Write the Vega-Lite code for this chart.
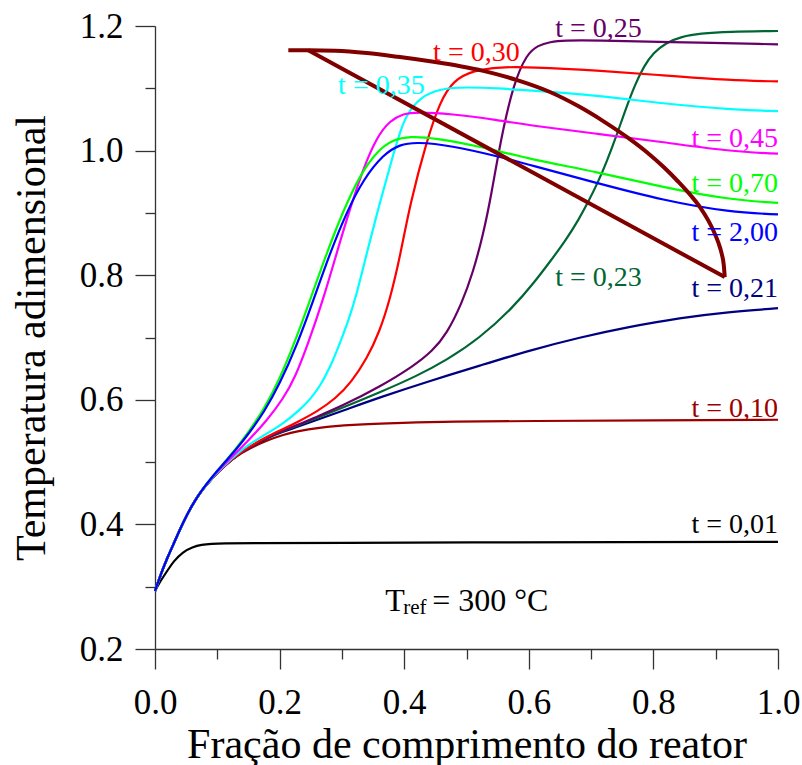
{
  "$schema": "https://vega.github.io/schema/vega-lite/v6.json",
  "width": 623,
  "height": 623,
  "autosize": "none",
  "padding": {"left": 155, "top": 26, "right": 24, "bottom": 116},
  "background": "white",
  "config": {
    "view": {"stroke": null},
    "font": "Liberation Serif",
    "axis": {
      "grid": false,
      "domainColor": "#333333",
      "domainWidth": 1.3,
      "tickColor": "#333333",
      "tickWidth": 1.3,
      "labelFont": "Liberation Serif",
      "labelFontSize": 35,
      "labelColor": "#000000",
      "titleFont": "Liberation Serif",
      "titleFontSize": 42,
      "titleFontWeight": "normal",
      "titleColor": "#000000"
    }
  },
  "resolve": {"axis": {"x": "independent", "y": "independent"}},
  "datasets": {
    "curves": [
      {"s": "t = 0,01", "x": 0, "y": 0.293},
      {"s": "t = 0,01", "x": 0.007, "y": 0.306},
      {"s": "t = 0,01", "x": 0.0134, "y": 0.316},
      {"s": "t = 0,01", "x": 0.02, "y": 0.326},
      {"s": "t = 0,01", "x": 0.03, "y": 0.341},
      {"s": "t = 0,01", "x": 0.045, "y": 0.356},
      {"s": "t = 0,01", "x": 0.06, "y": 0.3635},
      {"s": "t = 0,01", "x": 0.075, "y": 0.3675},
      {"s": "t = 0,01", "x": 0.09, "y": 0.369},
      {"s": "t = 0,01", "x": 0.11, "y": 0.3698},
      {"s": "t = 0,01", "x": 0.15, "y": 0.370},
      {"s": "t = 0,01", "x": 0.3, "y": 0.3705},
      {"s": "t = 0,01", "x": 0.5, "y": 0.371},
      {"s": "t = 0,01", "x": 0.75, "y": 0.3715},
      {"s": "t = 0,01", "x": 1.0, "y": 0.372},

      {"s": "t = 0,10", "x": 0, "y": 0.293},
      {"s": "t = 0,10", "x": 0.01, "y": 0.322},
      {"s": "t = 0,10", "x": 0.02, "y": 0.347},
      {"s": "t = 0,10", "x": 0.03, "y": 0.369},
      {"s": "t = 0,10", "x": 0.045, "y": 0.403},
      {"s": "t = 0,10", "x": 0.06, "y": 0.432},
      {"s": "t = 0,10", "x": 0.075, "y": 0.455},
      {"s": "t = 0,10", "x": 0.09, "y": 0.472},
      {"s": "t = 0,10", "x": 0.1, "y": 0.483},
      {"s": "t = 0,10", "x": 0.115, "y": 0.497},
      {"s": "t = 0,10", "x": 0.13, "y": 0.509},
      {"s": "t = 0,10", "x": 0.15, "y": 0.521},
      {"s": "t = 0,10", "x": 0.18, "y": 0.535},
      {"s": "t = 0,10", "x": 0.206, "y": 0.544},
      {"s": "t = 0,10", "x": 0.23, "y": 0.550},
      {"s": "t = 0,10", "x": 0.26, "y": 0.555},
      {"s": "t = 0,10", "x": 0.313, "y": 0.560},
      {"s": "t = 0,10", "x": 0.4, "y": 0.563},
      {"s": "t = 0,10", "x": 0.474, "y": 0.565},
      {"s": "t = 0,10", "x": 0.6, "y": 0.566},
      {"s": "t = 0,10", "x": 0.8, "y": 0.567},
      {"s": "t = 0,10", "x": 1.0, "y": 0.568},

      {"s": "t = 0,21", "x": 0, "y": 0.293},
      {"s": "t = 0,21", "x": 0.01, "y": 0.322},
      {"s": "t = 0,21", "x": 0.02, "y": 0.347},
      {"s": "t = 0,21", "x": 0.03, "y": 0.369},
      {"s": "t = 0,21", "x": 0.045, "y": 0.403},
      {"s": "t = 0,21", "x": 0.06, "y": 0.432},
      {"s": "t = 0,21", "x": 0.075, "y": 0.455},
      {"s": "t = 0,21", "x": 0.09, "y": 0.472},
      {"s": "t = 0,21", "x": 0.1, "y": 0.483},
      {"s": "t = 0,21", "x": 0.115, "y": 0.497},
      {"s": "t = 0,21", "x": 0.13, "y": 0.510},
      {"s": "t = 0,21", "x": 0.15, "y": 0.523},
      {"s": "t = 0,21", "x": 0.18, "y": 0.539},
      {"s": "t = 0,21", "x": 0.206, "y": 0.549},
      {"s": "t = 0,21", "x": 0.23, "y": 0.557},
      {"s": "t = 0,21", "x": 0.26, "y": 0.568},
      {"s": "t = 0,21", "x": 0.3, "y": 0.582},
      {"s": "t = 0,21", "x": 0.361, "y": 0.604},
      {"s": "t = 0,21", "x": 0.44, "y": 0.630},
      {"s": "t = 0,21", "x": 0.522, "y": 0.655},
      {"s": "t = 0,21", "x": 0.6, "y": 0.679},
      {"s": "t = 0,21", "x": 0.6825, "y": 0.7005},
      {"s": "t = 0,21", "x": 0.76, "y": 0.717},
      {"s": "t = 0,21", "x": 0.843, "y": 0.7316},
      {"s": "t = 0,21", "x": 0.92, "y": 0.741},
      {"s": "t = 0,21", "x": 1.0, "y": 0.747},

      {"s": "t = 0,23", "x": 0, "y": 0.293},
      {"s": "t = 0,23", "x": 0.01, "y": 0.322},
      {"s": "t = 0,23", "x": 0.02, "y": 0.347},
      {"s": "t = 0,23", "x": 0.03, "y": 0.369},
      {"s": "t = 0,23", "x": 0.045, "y": 0.403},
      {"s": "t = 0,23", "x": 0.06, "y": 0.432},
      {"s": "t = 0,23", "x": 0.075, "y": 0.455},
      {"s": "t = 0,23", "x": 0.09, "y": 0.472},
      {"s": "t = 0,23", "x": 0.1, "y": 0.483},
      {"s": "t = 0,23", "x": 0.115, "y": 0.497},
      {"s": "t = 0,23", "x": 0.13, "y": 0.510},
      {"s": "t = 0,23", "x": 0.15, "y": 0.523},
      {"s": "t = 0,23", "x": 0.18, "y": 0.540},
      {"s": "t = 0,23", "x": 0.206, "y": 0.550},
      {"s": "t = 0,23", "x": 0.23, "y": 0.559},
      {"s": "t = 0,23", "x": 0.26, "y": 0.571},
      {"s": "t = 0,23", "x": 0.3, "y": 0.587},
      {"s": "t = 0,23", "x": 0.361, "y": 0.612},
      {"s": "t = 0,23", "x": 0.42, "y": 0.638},
      {"s": "t = 0,23", "x": 0.4684, "y": 0.664},
      {"s": "t = 0,23", "x": 0.52, "y": 0.698},
      {"s": "t = 0,23", "x": 0.5754, "y": 0.7487},
      {"s": "t = 0,23", "x": 0.61, "y": 0.790},
      {"s": "t = 0,23", "x": 0.635, "y": 0.823},
      {"s": "t = 0,23", "x": 0.66, "y": 0.857},
      {"s": "t = 0,23", "x": 0.68, "y": 0.889},
      {"s": "t = 0,23", "x": 0.695, "y": 0.917},
      {"s": "t = 0,23", "x": 0.71, "y": 0.947},
      {"s": "t = 0,23", "x": 0.725, "y": 0.982},
      {"s": "t = 0,23", "x": 0.74, "y": 1.022},
      {"s": "t = 0,23", "x": 0.755, "y": 1.065},
      {"s": "t = 0,23", "x": 0.77, "y": 1.105},
      {"s": "t = 0,23", "x": 0.785, "y": 1.136},
      {"s": "t = 0,23", "x": 0.80, "y": 1.157},
      {"s": "t = 0,23", "x": 0.82, "y": 1.173},
      {"s": "t = 0,23", "x": 0.845, "y": 1.183},
      {"s": "t = 0,23", "x": 0.875, "y": 1.188},
      {"s": "t = 0,23", "x": 0.92, "y": 1.191},
      {"s": "t = 0,23", "x": 1.0, "y": 1.192},

      {"s": "t = 0,25", "x": 0, "y": 0.293},
      {"s": "t = 0,25", "x": 0.01, "y": 0.322},
      {"s": "t = 0,25", "x": 0.02, "y": 0.347},
      {"s": "t = 0,25", "x": 0.03, "y": 0.369},
      {"s": "t = 0,25", "x": 0.045, "y": 0.403},
      {"s": "t = 0,25", "x": 0.06, "y": 0.432},
      {"s": "t = 0,25", "x": 0.075, "y": 0.455},
      {"s": "t = 0,25", "x": 0.09, "y": 0.472},
      {"s": "t = 0,25", "x": 0.1, "y": 0.483},
      {"s": "t = 0,25", "x": 0.115, "y": 0.497},
      {"s": "t = 0,25", "x": 0.13, "y": 0.510},
      {"s": "t = 0,25", "x": 0.15, "y": 0.523},
      {"s": "t = 0,25", "x": 0.18, "y": 0.540},
      {"s": "t = 0,25", "x": 0.206, "y": 0.551},
      {"s": "t = 0,25", "x": 0.23, "y": 0.560},
      {"s": "t = 0,25", "x": 0.26, "y": 0.573},
      {"s": "t = 0,25", "x": 0.3, "y": 0.590},
      {"s": "t = 0,25", "x": 0.3613, "y": 0.621},
      {"s": "t = 0,25", "x": 0.4148, "y": 0.654},
      {"s": "t = 0,25", "x": 0.445, "y": 0.678},
      {"s": "t = 0,25", "x": 0.4684, "y": 0.706},
      {"s": "t = 0,25", "x": 0.4925, "y": 0.755},
      {"s": "t = 0,25", "x": 0.51, "y": 0.803},
      {"s": "t = 0,25", "x": 0.527, "y": 0.866},
      {"s": "t = 0,25", "x": 0.54, "y": 0.930},
      {"s": "t = 0,25", "x": 0.555, "y": 1.018},
      {"s": "t = 0,25", "x": 0.5754, "y": 1.1075},
      {"s": "t = 0,25", "x": 0.597, "y": 1.1556},
      {"s": "t = 0,25", "x": 0.615, "y": 1.169},
      {"s": "t = 0,25", "x": 0.634, "y": 1.1744},
      {"s": "t = 0,25", "x": 0.6557, "y": 1.177},
      {"s": "t = 0,25", "x": 0.709, "y": 1.177},
      {"s": "t = 0,25", "x": 0.816, "y": 1.1744},
      {"s": "t = 0,25", "x": 1.0, "y": 1.1706},

      {"s": "t = 0,30", "x": 0, "y": 0.293},
      {"s": "t = 0,30", "x": 0.01, "y": 0.322},
      {"s": "t = 0,30", "x": 0.02, "y": 0.347},
      {"s": "t = 0,30", "x": 0.03, "y": 0.369},
      {"s": "t = 0,30", "x": 0.045, "y": 0.403},
      {"s": "t = 0,30", "x": 0.06, "y": 0.432},
      {"s": "t = 0,30", "x": 0.075, "y": 0.455},
      {"s": "t = 0,30", "x": 0.09, "y": 0.472},
      {"s": "t = 0,30", "x": 0.1, "y": 0.483},
      {"s": "t = 0,30", "x": 0.115, "y": 0.497},
      {"s": "t = 0,30", "x": 0.13, "y": 0.510},
      {"s": "t = 0,30", "x": 0.15, "y": 0.524},
      {"s": "t = 0,30", "x": 0.18, "y": 0.541},
      {"s": "t = 0,30", "x": 0.206, "y": 0.553},
      {"s": "t = 0,30", "x": 0.23, "y": 0.565},
      {"s": "t = 0,30", "x": 0.26, "y": 0.581},
      {"s": "t = 0,30", "x": 0.29, "y": 0.602},
      {"s": "t = 0,30", "x": 0.315, "y": 0.628},
      {"s": "t = 0,30", "x": 0.34, "y": 0.666},
      {"s": "t = 0,30", "x": 0.36, "y": 0.708},
      {"s": "t = 0,30", "x": 0.3774, "y": 0.762},
      {"s": "t = 0,30", "x": 0.3934, "y": 0.830},
      {"s": "t = 0,30", "x": 0.4095, "y": 0.915},
      {"s": "t = 0,30", "x": 0.4363, "y": 1.0164},
      {"s": "t = 0,30", "x": 0.4577, "y": 1.079},
      {"s": "t = 0,30", "x": 0.479, "y": 1.1128},
      {"s": "t = 0,30", "x": 0.5112, "y": 1.1289},
      {"s": "t = 0,30", "x": 0.554, "y": 1.1342},
      {"s": "t = 0,30", "x": 0.602, "y": 1.1342},
      {"s": "t = 0,30", "x": 0.709, "y": 1.1289},
      {"s": "t = 0,30", "x": 0.816, "y": 1.1208},
      {"s": "t = 0,30", "x": 0.923, "y": 1.1128},
      {"s": "t = 0,30", "x": 1.0, "y": 1.111},

      {"s": "t = 0,35", "x": 0, "y": 0.293},
      {"s": "t = 0,35", "x": 0.01, "y": 0.322},
      {"s": "t = 0,35", "x": 0.02, "y": 0.347},
      {"s": "t = 0,35", "x": 0.03, "y": 0.369},
      {"s": "t = 0,35", "x": 0.045, "y": 0.403},
      {"s": "t = 0,35", "x": 0.06, "y": 0.432},
      {"s": "t = 0,35", "x": 0.075, "y": 0.455},
      {"s": "t = 0,35", "x": 0.09, "y": 0.472},
      {"s": "t = 0,35", "x": 0.1, "y": 0.483},
      {"s": "t = 0,35", "x": 0.115, "y": 0.498},
      {"s": "t = 0,35", "x": 0.13, "y": 0.512},
      {"s": "t = 0,35", "x": 0.15, "y": 0.528},
      {"s": "t = 0,35", "x": 0.18, "y": 0.546},
      {"s": "t = 0,35", "x": 0.206, "y": 0.562},
      {"s": "t = 0,35", "x": 0.233, "y": 0.584},
      {"s": "t = 0,35", "x": 0.25, "y": 0.602},
      {"s": "t = 0,35", "x": 0.265, "y": 0.622},
      {"s": "t = 0,35", "x": 0.28, "y": 0.650},
      {"s": "t = 0,35", "x": 0.295, "y": 0.686},
      {"s": "t = 0,35", "x": 0.31, "y": 0.726},
      {"s": "t = 0,35", "x": 0.323, "y": 0.766},
      {"s": "t = 0,35", "x": 0.34, "y": 0.836},
      {"s": "t = 0,35", "x": 0.3613, "y": 0.918},
      {"s": "t = 0,35", "x": 0.3827, "y": 0.995},
      {"s": "t = 0,35", "x": 0.395, "y": 1.035},
      {"s": "t = 0,35", "x": 0.4042, "y": 1.058},
      {"s": "t = 0,35", "x": 0.4256, "y": 1.086},
      {"s": "t = 0,35", "x": 0.4577, "y": 1.0995},
      {"s": "t = 0,35", "x": 0.5, "y": 1.102},
      {"s": "t = 0,35", "x": 0.55, "y": 1.100},
      {"s": "t = 0,35", "x": 0.602, "y": 1.0966},
      {"s": "t = 0,35", "x": 0.709, "y": 1.0887},
      {"s": "t = 0,35", "x": 0.816, "y": 1.0754},
      {"s": "t = 0,35", "x": 0.923, "y": 1.0657},
      {"s": "t = 0,35", "x": 1.0, "y": 1.0635},

      {"s": "t = 0,45", "x": 0, "y": 0.293},
      {"s": "t = 0,45", "x": 0.01, "y": 0.322},
      {"s": "t = 0,45", "x": 0.02, "y": 0.347},
      {"s": "t = 0,45", "x": 0.03, "y": 0.369},
      {"s": "t = 0,45", "x": 0.045, "y": 0.403},
      {"s": "t = 0,45", "x": 0.06, "y": 0.432},
      {"s": "t = 0,45", "x": 0.075, "y": 0.455},
      {"s": "t = 0,45", "x": 0.09, "y": 0.473},
      {"s": "t = 0,45", "x": 0.1, "y": 0.484},
      {"s": "t = 0,45", "x": 0.115, "y": 0.500},
      {"s": "t = 0,45", "x": 0.13, "y": 0.515},
      {"s": "t = 0,45", "x": 0.15, "y": 0.535},
      {"s": "t = 0,45", "x": 0.179, "y": 0.566},
      {"s": "t = 0,45", "x": 0.206, "y": 0.602},
      {"s": "t = 0,45", "x": 0.225, "y": 0.636},
      {"s": "t = 0,45", "x": 0.245, "y": 0.688},
      {"s": "t = 0,45", "x": 0.2703, "y": 0.762},
      {"s": "t = 0,45", "x": 0.2917, "y": 0.836},
      {"s": "t = 0,45", "x": 0.3131, "y": 0.907},
      {"s": "t = 0,45", "x": 0.3345, "y": 0.972},
      {"s": "t = 0,45", "x": 0.356, "y": 1.0217},
      {"s": "t = 0,45", "x": 0.3774, "y": 1.0485},
      {"s": "t = 0,45", "x": 0.3988, "y": 1.0593},
      {"s": "t = 0,45", "x": 0.42, "y": 1.062},
      {"s": "t = 0,45", "x": 0.4737, "y": 1.0593},
      {"s": "t = 0,45", "x": 0.554, "y": 1.0485},
      {"s": "t = 0,45", "x": 0.602, "y": 1.0404},
      {"s": "t = 0,45", "x": 0.709, "y": 1.027},
      {"s": "t = 0,45", "x": 0.816, "y": 1.0137},
      {"s": "t = 0,45", "x": 0.923, "y": 0.9986},
      {"s": "t = 0,45", "x": 1.0, "y": 0.995},

      {"s": "t = 0,70", "x": 0, "y": 0.293},
      {"s": "t = 0,70", "x": 0.01, "y": 0.322},
      {"s": "t = 0,70", "x": 0.02, "y": 0.347},
      {"s": "t = 0,70", "x": 0.03, "y": 0.369},
      {"s": "t = 0,70", "x": 0.045, "y": 0.403},
      {"s": "t = 0,70", "x": 0.06, "y": 0.432},
      {"s": "t = 0,70", "x": 0.075, "y": 0.455},
      {"s": "t = 0,70", "x": 0.09, "y": 0.474},
      {"s": "t = 0,70", "x": 0.1, "y": 0.486},
      {"s": "t = 0,70", "x": 0.115, "y": 0.504},
      {"s": "t = 0,70", "x": 0.13, "y": 0.522},
      {"s": "t = 0,70", "x": 0.15, "y": 0.548},
      {"s": "t = 0,70", "x": 0.175, "y": 0.585},
      {"s": "t = 0,70", "x": 0.2, "y": 0.633},
      {"s": "t = 0,70", "x": 0.225, "y": 0.694},
      {"s": "t = 0,70", "x": 0.25, "y": 0.763},
      {"s": "t = 0,70", "x": 0.2757, "y": 0.836},
      {"s": "t = 0,70", "x": 0.3024, "y": 0.904},
      {"s": "t = 0,70", "x": 0.3292, "y": 0.961},
      {"s": "t = 0,70", "x": 0.356, "y": 0.999},
      {"s": "t = 0,70", "x": 0.3827, "y": 1.018},
      {"s": "t = 0,70", "x": 0.4095, "y": 1.0228},
      {"s": "t = 0,70", "x": 0.447, "y": 1.0207},
      {"s": "t = 0,70", "x": 0.527, "y": 1.0057},
      {"s": "t = 0,70", "x": 0.602, "y": 0.986},
      {"s": "t = 0,70", "x": 0.709, "y": 0.966},
      {"s": "t = 0,70", "x": 0.816, "y": 0.941},
      {"s": "t = 0,70", "x": 0.923, "y": 0.921},
      {"s": "t = 0,70", "x": 1.0, "y": 0.916},

      {"s": "t = 2,00", "x": 0, "y": 0.293},
      {"s": "t = 2,00", "x": 0.01, "y": 0.322},
      {"s": "t = 2,00", "x": 0.02, "y": 0.347},
      {"s": "t = 2,00", "x": 0.03, "y": 0.369},
      {"s": "t = 2,00", "x": 0.045, "y": 0.403},
      {"s": "t = 2,00", "x": 0.06, "y": 0.432},
      {"s": "t = 2,00", "x": 0.075, "y": 0.455},
      {"s": "t = 2,00", "x": 0.09, "y": 0.474},
      {"s": "t = 2,00", "x": 0.1, "y": 0.486},
      {"s": "t = 2,00", "x": 0.115, "y": 0.503},
      {"s": "t = 2,00", "x": 0.13, "y": 0.520},
      {"s": "t = 2,00", "x": 0.15, "y": 0.545},
      {"s": "t = 2,00", "x": 0.175, "y": 0.580},
      {"s": "t = 2,00", "x": 0.2, "y": 0.625},
      {"s": "t = 2,00", "x": 0.228, "y": 0.688},
      {"s": "t = 2,00", "x": 0.254, "y": 0.759},
      {"s": "t = 2,00", "x": 0.281, "y": 0.836},
      {"s": "t = 2,00", "x": 0.308, "y": 0.902},
      {"s": "t = 2,00", "x": 0.3345, "y": 0.954},
      {"s": "t = 2,00", "x": 0.3666, "y": 0.994},
      {"s": "t = 2,00", "x": 0.393, "y": 1.010},
      {"s": "t = 2,00", "x": 0.42, "y": 1.0137},
      {"s": "t = 2,00", "x": 0.4737, "y": 1.0084},
      {"s": "t = 2,00", "x": 0.554, "y": 0.990},
      {"s": "t = 2,00", "x": 0.602, "y": 0.977},
      {"s": "t = 2,00", "x": 0.709, "y": 0.948},
      {"s": "t = 2,00", "x": 0.816, "y": 0.920},
      {"s": "t = 2,00", "x": 0.923, "y": 0.901},
      {"s": "t = 2,00", "x": 1.0, "y": 0.8976}
    ],
    "envelopeArc": [
      {"x": 0.214, "y": 1.161},
      {"x": 0.246, "y": 1.161},
      {"x": 0.29, "y": 1.1602},
      {"x": 0.34, "y": 1.1565},
      {"x": 0.39, "y": 1.1505},
      {"x": 0.447, "y": 1.1425},
      {"x": 0.49, "y": 1.1355},
      {"x": 0.527, "y": 1.128},
      {"x": 0.58, "y": 1.1135},
      {"x": 0.634, "y": 1.094},
      {"x": 0.68, "y": 1.071},
      {"x": 0.72, "y": 1.047},
      {"x": 0.76, "y": 1.020},
      {"x": 0.79, "y": 0.997},
      {"x": 0.816, "y": 0.974},
      {"x": 0.84, "y": 0.950},
      {"x": 0.86, "y": 0.928},
      {"x": 0.875, "y": 0.909},
      {"x": 0.888, "y": 0.888},
      {"x": 0.8966, "y": 0.871},
      {"x": 0.904, "y": 0.853},
      {"x": 0.9095, "y": 0.835},
      {"x": 0.913, "y": 0.816},
      {"x": 0.9145, "y": 0.797}
    ],
    "envelopeChord": [
      {"x": 0.246, "y": 1.161},
      {"x": 0.9145, "y": 0.797}
    ],
    "rightLabels": [
      {"s": "t = 0,01", "x": 1.0, "y": 0.3868},
      {"s": "t = 0,10", "x": 1.0, "y": 0.5731},
      {"s": "t = 0,21", "x": 1.0, "y": 0.7643},
      {"s": "t = 2,00", "x": 1.0, "y": 0.8542},
      {"s": "t = 0,70", "x": 1.0, "y": 0.9329},
      {"s": "t = 0,45", "x": 1.0, "y": 1.0052}
    ],
    "leftLabels": [
      {"s": "t = 0,23", "x": 0.6424, "y": 0.782},
      {"s": "t = 0,25", "x": 0.6424, "y": 1.1819},
      {"s": "t = 0,30", "x": 0.4464, "y": 1.1433},
      {"s": "t = 0,35", "x": 0.2939, "y": 1.0903}
    ],
    "note": [
      {"x": 0.3694, "y": 0.2615}
    ]
  },
  "layer": [
    {
      "data": {"name": "curves"},
      "mark": {"type": "line", "strokeWidth": 2.2, "interpolate": "basis", "clip": false},
      "encoding": {
        "x": {
          "field": "x", "type": "quantitative",
          "scale": {"domain": [0, 1], "nice": false, "zero": false},
          "axis": {
            "orient": "bottom",
            "title": "Fração de comprimento do reator",
            "titleFont": "Liberation Serif",
            "values": [0, 0.2, 0.4, 0.6, 0.8, 1.0],
            "format": ".1f",
            "tickSize": 20,
            "labelPadding": 16,
            "titlePadding": 4,
            "labelFlush": false,
            "labelOverlap": false
          }
        },
        "y": {
          "field": "y", "type": "quantitative",
          "scale": {"domain": [0.2, 1.2], "nice": false, "zero": false},
          "axis": {
            "orient": "left",
            "title": "Temperatura adimensional",
            "titleFont": "Liberation Serif",
            "values": [0.2, 0.4, 0.6, 0.8, 1.0, 1.2],
            "format": ".1f",
            "tickSize": 20,
            "labelPadding": 12,
            "titlePadding": 26,
            "labelFlush": false,
            "labelOverlap": false
          }
        },
        "color": {
          "field": "s", "type": "nominal", "legend": null,
          "scale": {
            "domain": ["t = 0,01", "t = 0,10", "t = 0,21", "t = 0,23", "t = 0,25", "t = 0,30", "t = 0,35", "t = 0,45", "t = 0,70", "t = 2,00"],
            "range": ["#000000", "#9b0000", "#000080", "#006633", "#660066", "#ff0000", "#00ffff", "#ff00ff", "#00ff00", "#0000ff"]
          }
        }
      }
    },
    {
      "data": {"name": "envelopeArc"},
      "mark": {"type": "line", "strokeWidth": 4, "color": "#800000", "interpolate": "monotone", "clip": false},
      "encoding": {
        "x": {
          "field": "x", "type": "quantitative",
          "axis": {
            "orient": "bottom",
            "title": null,
            "values": [0.1, 0.3, 0.5, 0.7, 0.9],
            "tickSize": 10,
            "labels": false,
            "domain": false
          }
        },
        "y": {
          "field": "y", "type": "quantitative",
          "axis": {
            "orient": "left",
            "title": null,
            "values": [0.3, 0.5, 0.7, 0.9, 1.1],
            "tickSize": 10,
            "labels": false,
            "domain": false
          }
        }
      }
    },
    {
      "data": {"name": "envelopeChord"},
      "mark": {"type": "line", "strokeWidth": 4, "color": "#800000", "clip": false},
      "encoding": {
        "x": {"field": "x", "type": "quantitative", "axis": null},
        "y": {"field": "y", "type": "quantitative", "axis": null}
      }
    },
    {
      "data": {"name": "rightLabels"},
      "mark": {"type": "text", "align": "right", "baseline": "alphabetic", "fontSize": 28, "font": "Liberation Serif"},
      "encoding": {
        "x": {"field": "x", "type": "quantitative", "axis": null},
        "y": {"field": "y", "type": "quantitative", "axis": null},
        "text": {"field": "s"},
        "color": {"field": "s", "type": "nominal", "legend": null}
      }
    },
    {
      "data": {"name": "leftLabels"},
      "mark": {"type": "text", "align": "left", "baseline": "alphabetic", "fontSize": 28, "font": "Liberation Serif"},
      "encoding": {
        "x": {"field": "x", "type": "quantitative", "axis": null},
        "y": {"field": "y", "type": "quantitative", "axis": null},
        "text": {"field": "s"},
        "color": {"field": "s", "type": "nominal", "legend": null}
      }
    },
    {
      "data": {"name": "note"},
      "mark": {"type": "text", "align": "left", "baseline": "alphabetic", "fontSize": 32, "font": "Liberation Serif", "color": "#000000", "text": "T"},
      "encoding": {
        "x": {"field": "x", "type": "quantitative", "axis": null},
        "y": {"field": "y", "type": "quantitative", "axis": null}
      }
    },
    {
      "data": {"name": "note"},
      "mark": {"type": "text", "align": "left", "baseline": "alphabetic", "fontSize": 21, "font": "Liberation Serif", "color": "#000000", "text": "ref", "dx": 18, "dy": 3},
      "encoding": {
        "x": {"field": "x", "type": "quantitative", "axis": null},
        "y": {"field": "y", "type": "quantitative", "axis": null}
      }
    },
    {
      "data": {"name": "note"},
      "mark": {"type": "text", "align": "left", "baseline": "alphabetic", "fontSize": 32, "font": "Liberation Serif", "color": "#000000", "text": "= 300 °C", "dx": 47},
      "encoding": {
        "x": {"field": "x", "type": "quantitative", "axis": null},
        "y": {"field": "y", "type": "quantitative", "axis": null}
      }
    }
  ]
}
